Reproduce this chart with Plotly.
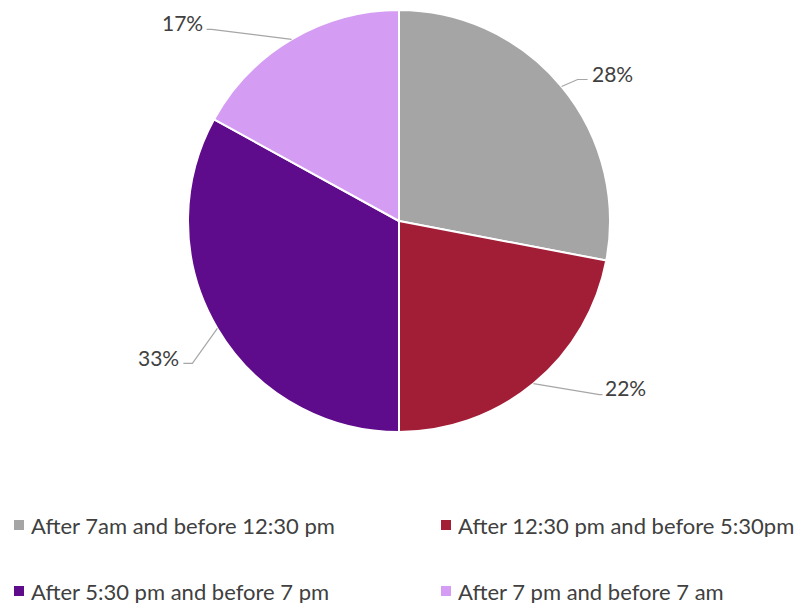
import math
import plotly.graph_objects as go

# Share of activity by time of day
labels = [
    "After 7am and before 12:30 pm",
    "After 12:30 pm and before 5:30pm",
    "After 5:30 pm and before 7 pm",
    "After 7 pm and before 7 am",
]
values = [28, 22, 33, 17]
colors = ["#A5A5A5", "#A21D36", "#5E0C8B", "#D49CF2"]

W, H = 805, 604
CX, CY, R = 399, 221, 211
FONT = "Lato"
TEXT_COLOR = "#404040"
FS = 21
LEGEND_FS = 22

fig = go.Figure(
    go.Pie(
        labels=labels,
        values=values,
        sort=False,
        direction="clockwise",
        rotation=0,
        marker=dict(colors=colors, line=dict(color="white", width=2)),
        textinfo="none",
        hoverinfo="label+percent",
        showlegend=False,
        domain=dict(x=[(CX - R) / W, (CX + R) / W], y=[1 - (CY + R) / H, 1 - (CY - R) / H]),
    )
)

def px(x, y):
    return x / W, 1 - y / H

# Leader-line layout per slice: elbow offset, end offset, label offset (pixels from slice edge)
leader = [
    dict(b=(16, -7), e=(26, -7), t=(28, -13), anchor="left"),
    dict(b=(66, 11), e=(69, 11), t=(70, 4), anchor="left"),
    dict(b=(-25, 35), e=(-34, 35), t=(-36, 29), anchor="right"),
    dict(b=(-80, -10), e=(-85, -10), t=(-87, -17), anchor="right"),
]

total = sum(values)
cum = 0
shapes, annotations = [], []
for v, ld in zip(values, leader):
    mid = (cum + v / 2) / total * 2 * math.pi
    cum += v
    x0 = CX + R * math.sin(mid)
    y0 = CY - R * math.cos(mid)
    bx, by = x0 + ld["b"][0], y0 + ld["b"][1]
    ex, ey = x0 + ld["e"][0], y0 + ld["e"][1]
    p0, p1, p2 = px(x0, y0), px(bx, by), px(ex, ey)
    shapes.append(dict(
        type="path", xref="paper", yref="paper",
        path=f"M {p0[0]} {p0[1]} L {p1[0]} {p1[1]} L {p2[0]} {p2[1]}",
        line=dict(color="#A6A6A6", width=1.2),
    ))
    tx, ty = px(x0 + ld["t"][0], y0 + ld["t"][1])
    annotations.append(dict(
        x=tx, y=ty, xref="paper", yref="paper", showarrow=False,
        text=f"{round(v / total * 100)}%", xanchor=ld["anchor"], yanchor="middle",
        font=dict(family=FONT, size=FS, color=TEXT_COLOR),
    ))

# Two-column legend below the pie
legend_pos = [(14, 525), (441, 525), (14, 591), (441, 591)]
for (lx, ly), lab, col in zip(legend_pos, labels, colors):
    a0 = px(lx, ly - 5)
    a1 = px(lx + 10, ly + 5)
    shapes.append(dict(
        type="rect", xref="paper", yref="paper",
        x0=a0[0], y0=a1[1], x1=a1[0], y1=a0[1],
        fillcolor=col, line=dict(width=0),
    ))
    tx, ty = px(lx + 15, ly)
    annotations.append(dict(
        x=tx, y=ty, xref="paper", yref="paper", showarrow=False,
        text=lab, xanchor="left", yanchor="middle", height=24, valign="middle",
        font=dict(family=FONT, size=LEGEND_FS, color=TEXT_COLOR),
    ))

fig.update_layout(
    width=W, height=H,
    margin=dict(l=0, r=0, t=0, b=0),
    paper_bgcolor="white", plot_bgcolor="white",
    shapes=shapes, annotations=annotations,
)

fig.write_html("out.html")
